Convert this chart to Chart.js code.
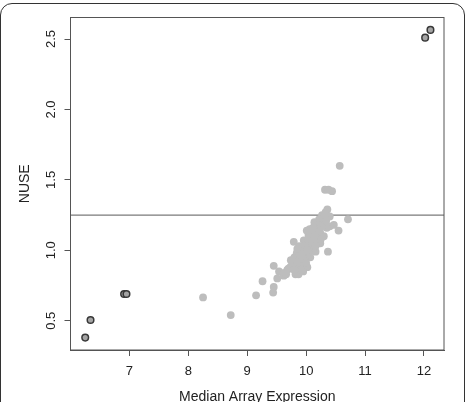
<!DOCTYPE html>
<html>
<head>
<meta charset="utf-8">
<script src="https://cdn.jsdelivr.net/npm/chart.js@4.4.0/dist/chart.umd.min.js"></script>
<style>
  html, body { margin: 0; padding: 0; background: #fff; overflow: hidden; }
  #wrap { position: relative; width: 469px; height: 402px; }
  #frame {
    position: absolute; left: 0px; top: 3px; width: 463px; height: 440px;
    border: 1.5px solid #333; border-radius: 12px; pointer-events: none;
  }
  canvas { position: absolute; left: 0; top: 0; }
</style>
</head>
<body>
<div id="wrap">
  <canvas id="chart" width="469" height="402"></canvas>
  <div id="frame"></div>
</div>
<script>
// arrays flagged as outliers (dark ring)
const outX = [6.25, 6.34, 6.91, 6.95, 12.02, 12.11];
const outY = [0.38, 0.505, 0.69, 0.69, 2.51, 2.565];

// the rest of the arrays (light grey)
const arrX = [10.57, 10.32, 10.38, 10.44, 10.36, 10.33, 10.27, 10.40, 10.71, 10.55,
              10.47, 10.40, 10.19, 10.22, 10.13, 10.04, 10.24, 10.30, 10.24, 10.37,
              9.96, 9.79, 9.90, 10.07, 10.16, 9.85, 9.96, 10.07, 9.76, 9.90,
              10.02, 9.68, 9.82, 9.62, 9.45, 9.54, 9.51, 9.87, 9.93, 9.99,
              10.01, 10.06, 10.17, 10.12, 9.98, 9.88, 9.84, 10.10, 10.20, 10.28,
              10.09, 9.92, 9.73, 9.78, 9.45, 9.44, 9.26, 9.15, 8.25, 8.72,
              9.63, 10.14, 10.35, 10.25, 9.95,
              9.70, 9.74, 9.80, 9.83, 9.86, 9.89, 9.94, 9.97, 10.00, 10.03,
              10.05, 10.08, 10.11, 10.14, 10.18, 10.21, 10.26, 10.29, 10.31, 10.34,
              9.94, 9.91, 9.80, 9.66, 10.00, 10.02, 9.85, 10.16, 10.23, 10.12];
const arrY = [1.60, 1.43, 1.43, 1.42, 1.29, 1.27, 1.25, 1.24, 1.22, 1.14,
              1.18, 1.17, 1.19, 1.22, 1.13, 1.11, 1.12, 1.10, 1.05, 0.99,
              1.07, 1.06, 1.00, 1.02, 0.99, 0.95, 0.93, 0.95, 0.92, 0.88,
              0.88, 0.86, 0.83, 0.82, 0.89, 0.85, 0.80, 0.83, 0.90, 0.96,
              1.14, 1.15, 1.06, 1.08, 1.01, 1.03, 0.98, 1.00, 1.16, 1.20,
              1.10, 0.96, 0.88, 0.90, 0.74, 0.70, 0.78, 0.68, 0.665, 0.54,
              0.84, 1.20, 1.16, 1.08, 0.85,
              0.87, 0.93, 0.95, 0.89, 0.92, 0.97, 0.99, 1.04, 1.05, 1.08,
              0.99, 1.12, 1.04, 1.10, 1.13, 1.18, 1.17, 1.22, 1.24, 1.21,
              0.94, 0.86, 0.86, 0.83, 0.91, 1.00, 1.01, 1.03, 1.14, 1.16];

const cutoff = 1.25;
const xTicks = [7, 8, 9, 10, 11, 12];
const yTicks = [0.5, 1.0, 1.5, 2.0, 2.5];
const xRange = [6.0, 12.34];
const yRange = [0.292, 2.653];

const FONT = "'Liberation Sans', Arial, Helvetica, sans-serif";

const boxAndLabels = {
  id: 'boxAndLabels',
  afterDraw(chart) {
    const ctx = chart.ctx;
    const a = chart.chartArea;
    const ys = chart.scales.y;
    ctx.save();
    ctx.strokeStyle = '#555';
    ctx.lineWidth = 1;
    ctx.strokeRect(a.left, a.top, a.right - a.left, a.bottom - a.top);
    ctx.fillStyle = '#222';
    ctx.font = '13px ' + FONT;
    ctx.textAlign = 'center';
    ctx.textBaseline = 'middle';
    yTicks.forEach(v => {
      const py = ys.getPixelForValue(v);
      ctx.save();
      ctx.translate(51, py);
      ctx.rotate(-Math.PI / 2);
      ctx.fillText(v.toFixed(1), 0, 0);
      ctx.restore();
    });
    ctx.restore();
  }
};

new Chart(document.getElementById('chart'), {
  type: 'scatter',
  data: {
    datasets: [
      {
        data: arrX.map((x, i) => ({x: x, y: arrY[i]})),
        pointRadius: 3.9,
        pointBackgroundColor: '#bdbdbd',
        pointBorderWidth: 0,
        pointBorderColor: '#bdbdbd'
      },
      {
        data: outX.map((x, i) => ({x: x, y: outY[i]})),
        pointRadius: 3.3,
        pointBackgroundColor: '#a4a4a4',
        pointBorderWidth: 1.5,
        pointBorderColor: '#383838'
      },
      {
        type: 'line',
        data: [{x: xRange[0], y: cutoff}, {x: xRange[1], y: cutoff}],
        borderColor: '#7a7a7a',
        borderWidth: 1.4,
        pointRadius: 0
      }
    ]
  },
  options: {
    responsive: false,
    devicePixelRatio: 1,
    animation: false,
    layout: { padding: { left: 0, right: 25, top: 17.5, bottom: 0 } },
    plugins: { legend: { display: false }, tooltip: { enabled: false } },
    scales: {
      x: {
        type: 'linear',
        min: xRange[0],
        max: xRange[1],
        afterBuildTicks: s => { s.ticks = xTicks.map(v => ({value: v})); },
        afterFit: s => { s.height = 52; },
        grid: { drawOnChartArea: false, drawTicks: true, tickLength: 6, color: '#555' },
        border: { display: true, color: '#555', width: 1 },
        ticks: { color: '#222', font: { family: FONT, size: 13 }, padding: 8, maxRotation: 0, callback: v => String(v) },
        title: { display: true, text: 'Median Array Expression', color: '#222',
                 font: { family: FONT, size: 14, lineHeight: 1 }, padding: { top: 0, bottom: -2 } }
      },
      y: {
        type: 'linear',
        min: yRange[0],
        max: yRange[1],
        afterBuildTicks: s => { s.ticks = yTicks.map(v => ({value: v})); },
        afterFit: s => { s.width = 70.5; },
        grid: { drawOnChartArea: false, drawTicks: true, tickLength: 6, color: '#555' },
        border: { display: true, color: '#555', width: 1 },
        ticks: { display: false },
        title: { display: true, text: 'NUSE', color: '#222',
                 font: { family: FONT, size: 14, lineHeight: 1 }, padding: { top: 18, bottom: 0 } }
      }
    }
  },
  plugins: [boxAndLabels]
});
</script>
</body>
</html>
